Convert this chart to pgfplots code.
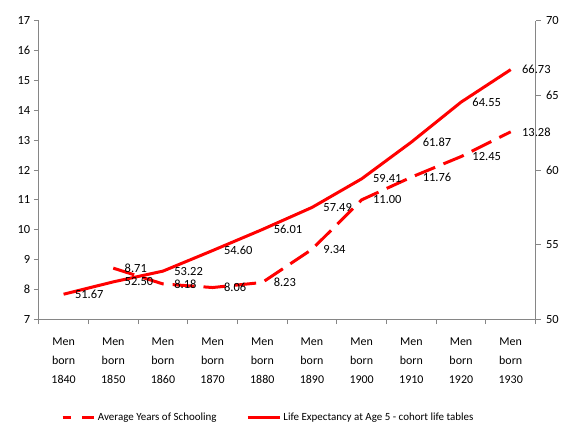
\documentclass[border=0pt]{standalone}
\usepackage{fontspec}
\setmainfont{Carlito}
\usepackage{pgfplots}
\pgfplotsset{compat=1.18}
\definecolor{axgray}{RGB}{134,134,134}
\begin{document}
\begin{tikzpicture}
\pgfplotsset{
 common/.style={
  scale only axis, width=498pt, height=299pt,
  xmin=-0.5, xmax=9.5,
  axis line style={axgray, line width=1.2pt},
  tick style={axgray, line width=1pt},
  tick align=outside,
  major tick length=5pt,
  minor tick length=5pt,
  /pgf/number format/assume math mode=true,
  tick label style={font=\fontsize{12.5}{15}\selectfont, text=black},
  clip=false,
  nodes near coords style={anchor=west, xshift=9pt, inner sep=1pt, font=\fontsize{12.5}{15}\selectfont, text=black},
 }
}
\begin{axis}[common,
 axis x line*=bottom, axis y line*=left,
 ymin=7, ymax=17, ytick={7,8,...,17},
 xtick={0,...,9},
 major x tick style={draw=none},
 minor xtick={-0.5,0.5,1.5,2.5,3.5,4.5,5.5,6.5,7.5,8.5,9.5},
 xticklabels={{Men\\born\\1840},{Men\\born\\1850},{Men\\born\\1860},{Men\\born\\1870},{Men\\born\\1880},{Men\\born\\1890},{Men\\born\\1900},{Men\\born\\1910},{Men\\born\\1920},{Men\\born\\1930}},
 xticklabel style={align=center, font=\fontsize{12}{19}\selectfont, yshift=-10.5pt},
 legend style={draw=none, at={(0.462,-0.331)}, anchor=center, font=\fontsize{11}{13}\selectfont, /tikz/every even column/.append style={column sep=28pt}},
 legend columns=2,
 legend image code/.code={\draw[#1] (0pt,0pt) -- (32pt,0pt);},
]
\addplot[red, line width=3pt, dash pattern=on 22pt off 9pt, forget plot,
 nodes near coords, point meta=explicit symbolic]
 coordinates {(1,8.71)[8.71] (2,8.18)[8.18] (3,8.06)[8.06] (4,8.23)[8.23] (5,9.34)[9.34] (6,11.00)[11.00] (7,11.76)[11.76] (8,12.45)[12.45] (9,13.28)[13.28]};
\addlegendimage{red, line width=3pt, dash pattern=on 8pt off 12pt on 12pt}
\addlegendentry{Average Years of Schooling}
\addlegendimage{red, line width=3pt}
\addlegendentry{Life Expectancy at Age 5 - cohort life tables}
\path (rel axis cs:-0.078,-0.344) rectangle (rel axis cs:1.050,1.070);
\end{axis}
\begin{axis}[common,
 axis y line*=right, axis x line=none,
 ymin=50, ymax=70, ytick={50,55,...,70},
 yticklabel style={xshift=2pt},
]
\addplot[red, line width=3pt, nodes near coords, point meta=explicit symbolic]
 coordinates {(0,51.67)[51.67] (1,52.50)[52.50] (2,53.22)[53.22] (3,54.60)[54.60] (4,56.01)[56.01] (5,57.49)[57.49] (6,59.41)[59.41] (7,61.87)[61.87] (8,64.55)[64.55] (9,66.73)[66.73]};
\end{axis}
\end{tikzpicture}
\end{document}
